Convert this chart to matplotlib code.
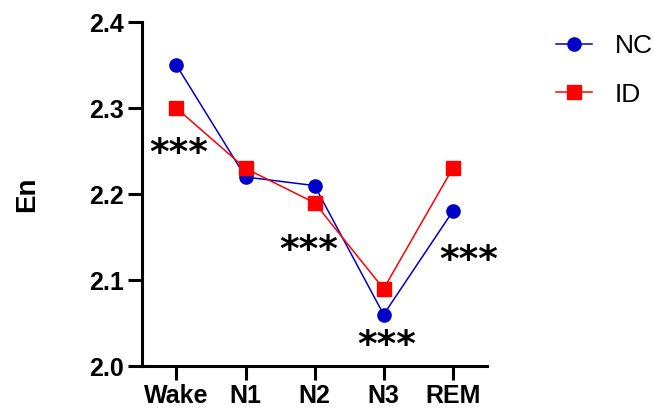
import matplotlib
matplotlib.use("Agg")
from matplotlib import pyplot as plt

plt.rcParams['font.family'] = ['Liberation Sans', 'DejaVu Sans']

stages = ["Wake", "N1", "N2", "N3", "REM"]
nc = [2.35, 2.22, 2.21, 2.06, 2.18]
id_vals = [2.30, 2.23, 2.19, 2.09, 2.23]

# significance marks: (x position, y value at the centre of the stars)
star_x = [0.03, 1.92, 3.05, 4.23]
star_y = [2.2535, 2.1407, 2.0302, 2.1291]

fig = plt.figure(figsize=(6.54, 4.11), dpi=100)
ax = fig.add_axes([0.217, 0.109, 0.528, 0.837])

x = range(len(stages))
ax.plot(x, nc, color="#0000C8", marker="o", markersize=9.5, linewidth=1.1, label="NC")
ax.plot(x, id_vals, color="#FF0000", marker="s", markersize=9.5, linewidth=1.1, label="ID")

for sx, sy in zip(star_x, star_y):
    ax.annotate("***", xy=(sx, sy), xytext=(0, -11.5), textcoords="offset points",
                ha="center", va="baseline", fontsize=27, fontweight="bold",
                family="DejaVu Sans", color="black")

ax.set_xlim(-0.5, 4.5)
ax.set_ylim(2.0, 2.4)
ax.set_yticks([2.0, 2.1, 2.2, 2.3, 2.4])
ax.set_xticks(list(x))
ax.set_xticklabels(stages)
ax.set_ylabel("En", fontsize=20, fontweight="bold", labelpad=35)

for s in ["top", "right"]:
    ax.spines[s].set_visible(False)
for s in ["left", "bottom"]:
    ax.spines[s].set_linewidth(2.2)
ax.tick_params(width=2.2, length=10, labelsize=18, pad=3)
for lab in ax.get_xticklabels() + ax.get_yticklabels():
    lab.set_fontweight("bold")

fig.legend(loc="upper left", bbox_to_anchor=(556 / 654, 1 - 34 / 411), frameon=False,
           fontsize=19, handlelength=1.36, handletextpad=0.87, labelspacing=0.93,
           borderpad=0, borderaxespad=0)

plt.savefig("out.png", dpi=100)
